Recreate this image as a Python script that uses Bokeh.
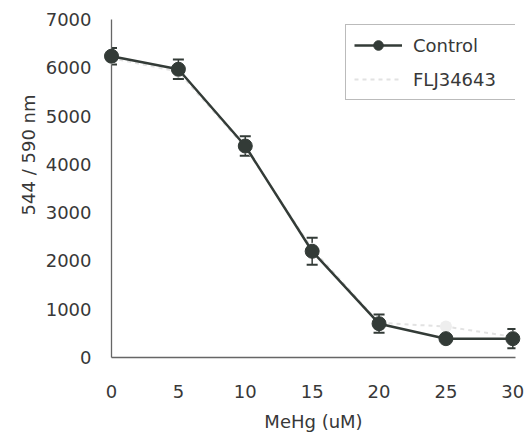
from bokeh.plotting import figure
from bokeh.models import ColumnDataSource, Whisker, TeeHead, Legend, LegendItem, Range1d, FixedTicker, Title
from bokeh.embed import file_html
from bokeh.resources import INLINE

# ---- data ----
conc = [0, 5, 10, 15, 20, 25, 30]
control = [6240, 5970, 4380, 2200, 700, 390, 390]
control_err = [170, 200, 200, 280, 190, 40, 200]
flj = [6200, 5920, 4350, 2250, 720, 640, 430]
flj_err = [150, 180, 200, 250, 180, 80, 150]
x_ticks = [0, 5, 10, 15, 20, 25, 30]
y_ticks = [0, 1000, 2000, 3000, 4000, 5000, 6000, 7000]

DARK = "#333b37"
TEXT = "#383838"
FONT = "DejaVu Sans"

p = figure(width=527, height=435, output_backend="svg", toolbar_location=None,
           x_range=Range1d(0, 30.2), y_range=Range1d(0, 7000),
           min_border_left=111, min_border_right=12, min_border_top=19, min_border_bottom=78)
p.outline_line_color = None
p.xgrid.grid_line_color = None
p.ygrid.grid_line_color = None
p.background_fill_color = "white"
p.border_fill_color = "white"

src_c = ColumnDataSource(dict(x=conc, y=control,
                              upper=[v + e for v, e in zip(control, control_err)],
                              lower=[v - e for v, e in zip(control, control_err)]))
src_f = ColumnDataSource(dict(x=conc, y=flj,
                              upper=[v + e for v, e in zip(flj, flj_err)],
                              lower=[v - e for v, e in zip(flj, flj_err)]))

# faint second series
r_fl = p.line("x", "y", source=src_f, line_color="#e2e2e2", line_width=2, line_dash="4 4")
r_fs = p.scatter("x", "y", source=src_f, size=12, fill_color="#eeeeee", line_color=None)
r_fl.level = "overlay"
r_fs.level = "overlay"

# error bars
p.add_layout(Whisker(base="x", upper="upper", lower="lower", source=src_c,
                     line_color=DARK, line_width=1.5,
                     upper_head=TeeHead(size=11, line_color=DARK, line_width=2),
                     lower_head=TeeHead(size=11, line_color=DARK, line_width=2)))

r_cl = p.line("x", "y", source=src_c, line_color=DARK, line_width=2.5)
r_cs = p.scatter("x", "y", source=src_c, size=14, fill_color=DARK, line_color=DARK)
r_cl.level = "overlay"
r_cs.level = "overlay"

# axes
for ax in (p.xaxis[0], p.yaxis[0]):
    ax.axis_line_color = "#666666"
    ax.axis_line_width = 1.3
    ax.major_tick_line_color = None
    ax.minor_tick_line_color = None
    ax.major_tick_out = 0
    ax.major_tick_in = 0
    ax.major_label_text_font = FONT
    ax.major_label_text_font_size = "18px"
    ax.major_label_text_color = TEXT
    ax.axis_label_text_font = FONT
    ax.axis_label_text_font_size = "18px"
    ax.axis_label_text_font_style = "normal"
    ax.axis_label_text_color = TEXT

p.xaxis.ticker = FixedTicker(ticks=x_ticks)
p.yaxis.ticker = FixedTicker(ticks=y_ticks)
p.xaxis.axis_label = "MeHg (uM)"
p.xaxis.major_label_standoff = 27
p.xaxis.axis_label_standoff = 10
p.yaxis.major_label_standoff = 20

# y axis title, placed in the upper part of the left side as in the reference
ytitle = Title(text="544 / 590 nm", align="right", offset=75, standoff=8,
               text_font=FONT, text_font_size="18px", text_font_style="normal",
               text_color=TEXT)
p.add_layout(ytitle, "left")

legend = Legend(items=[LegendItem(label="Control", renderers=[r_cl, r_cs]),
                       LegendItem(label="FLJ34643", renderers=[r_fl])],
                location=(234, 257))
legend.label_text_font = FONT
legend.label_text_font_size = "18px"
legend.label_text_color = TEXT
legend.glyph_width = 48
legend.glyph_height = 24
legend.label_height = 24
legend.label_width = 95
legend.label_standoff = 11
legend.padding = 8
legend.spacing = 10
legend.margin = 0
legend.border_line_color = "#777777"
legend.border_line_width = 1.2
legend.background_fill_color = "white"
legend.background_fill_alpha = 1
p.add_layout(legend)

open("out.html", "w").write(file_html(p, INLINE))
